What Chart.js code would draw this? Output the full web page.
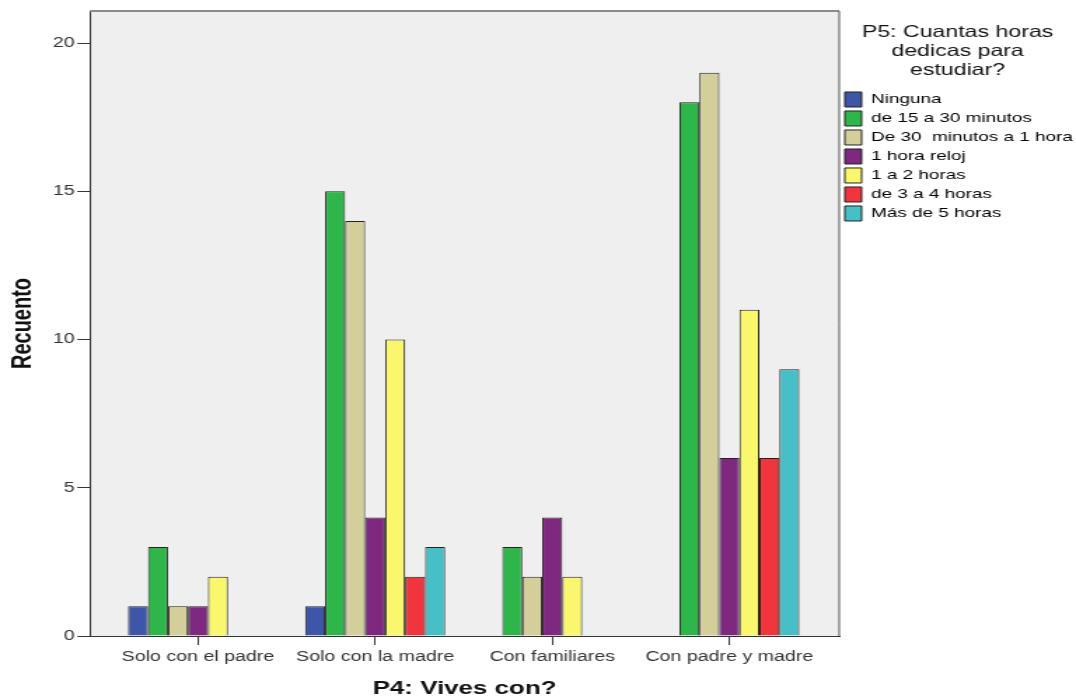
<!DOCTYPE html>
<html>
<head>
<meta charset="utf-8">
<script src="https://cdn.jsdelivr.net/npm/chart.js@4"></script>
<style>
  body { margin: 0; background: #fff; overflow: hidden; }
  /* el grafico original esta estirado a lo ancho */
  #contenedor { width: 768px; height: 700px; transform: scaleX(1.401); transform-origin: 0 0; }
</style>
</head>
<body>
<div id="contenedor">
  <canvas id="grafico" width="768" height="700"></canvas>
</div>
<script>
const categorias = ['Solo con el padre', 'Solo con la madre', 'Con familiares', 'Con padre y madre'];
const series = ['Ninguna', 'de 15 a 30 minutos', 'De 30  minutos a 1 hora', '1 hora reloj', '1 a 2 horas', 'de 3 a 4 horas', 'Más de 5 horas'];
const ninguna = [1, 1, 0, 0];
const de15a30 = [3, 15, 3, 18];
const de30a1h = [1, 14, 2, 19];
const unaHoraReloj = [1, 4, 4, 6];
const unoADosHoras = [2, 10, 2, 11];
const tresACuatro = [0, 2, 0, 6];
const masDe5 = [0, 3, 0, 9];
const ticksY = [0, 5, 10, 15, 20];

const colores = ['#3d56a7', '#2fb64b', '#d4cf9a', '#7f2880', '#faf76f', '#f0353d', '#46bfc6'];
const valores = [ninguna, de15a30, de30a1h, unaHoraReloj, unoADosHoras, tresACuatro, masDe5];

const fuente = "'Liberation Sans', Arial, sans-serif";

// fondo gris y marco del area de trazado
const marco = {
  id: 'marco',
  beforeDraw(chart) {
    const { ctx, chartArea: a } = chart;
    ctx.save();
    ctx.fillStyle = '#efefef';
    ctx.fillRect(a.left, a.top, a.right - a.left, a.bottom - a.top);
    ctx.restore();
  },
  afterDraw(chart) {
    const { ctx, chartArea: a } = chart;
    ctx.save();
    ctx.strokeStyle = '#8c8c8c';
    ctx.lineWidth = 2;
    ctx.beginPath();
    ctx.moveTo(a.left, a.top);
    ctx.lineTo(a.right, a.top);
    ctx.stroke();
    ctx.strokeStyle = '#555';
    ctx.lineWidth = 1;
    ctx.beginPath();
    ctx.moveTo(a.right, a.top);
    ctx.lineTo(a.right, a.bottom);
    ctx.stroke();
    ctx.restore();
  }
};

const datasets = series.map((nombre, i) => ({
  label: nombre,
  data: valores[i].map((v, j) => ({ x: j, y: v === 0 ? null : v })),
  backgroundColor: colores[i],
  borderColor: '#222',
  borderWidth: 1,
  categoryPercentage: 0.79,
  barPercentage: 1.0
}));

new Chart(document.getElementById('grafico').getContext('2d'), {
  type: 'bar',
  data: { datasets: datasets },
  plugins: [marco],
  options: {
    responsive: false,
    animation: false,
    layout: { padding: { top: 11, left: 0, right: 0, bottom: 0 } },
    plugins: {
      tooltip: { enabled: false },
      legend: {
        position: 'right',
        align: 'start',
        maxWidth: 169,
        title: {
          display: true,
          text: ['P5: Cuantas horas', 'dedicas para', 'estudiar?'],
          color: '#111',
          font: { family: fuente, size: 16.5, lineHeight: 1.15 },
          padding: { top: 13, bottom: 45 }
        },
        labels: {
          boxWidth: 12,
          boxHeight: 15,
          padding: 4,
          color: '#000',
          font: { family: fuente, size: 13.5 }
        }
      }
    },
    scales: {
      x: {
        type: 'linear',
        min: -0.61,
        max: 3.62,
        offset: false,
        afterBuildTicks: s => { s.ticks = categorias.map((c, i) => ({ value: i })); },
        afterFit: s => { s.height = 64; },
        grid: { offset: false, drawOnChartArea: false, drawTicks: true, tickLength: 9, tickColor: '#333' },
        border: { display: true, color: '#333', width: 1 },
        ticks: {
          padding: 4,
          color: '#333',
          maxRotation: 0,
          font: { family: fuente, size: 14 },
          callback: v => categorias[v]
        },
        title: {
          display: true,
          text: 'P4: Vives con?',
          color: '#111',
          font: { family: fuente, size: 18.5, weight: 'bold' },
          padding: { top: 0, bottom: 0 }
        }
      },
      y: {
        min: 0,
        max: 21.08,
        afterBuildTicks: s => { s.ticks = ticksY.map(v => ({ value: v })); },
        afterFit: s => { s.width = 64.2; },
        grid: { drawOnChartArea: false, drawTicks: true, tickLength: 9, tickColor: '#333' },
        border: { display: true, color: '#333', width: 1 },
        ticks: {
          padding: 2,
          color: '#333',
          font: { family: fuente, size: 14 }
        },
        title: {
          display: true,
          text: 'Recuento',
          color: '#111',
          font: { family: fuente, size: 20, weight: 'bold' },
          padding: { top: 4, bottom: 0 }
        }
      }
    }
  }
});
</script>
</body>
</html>
